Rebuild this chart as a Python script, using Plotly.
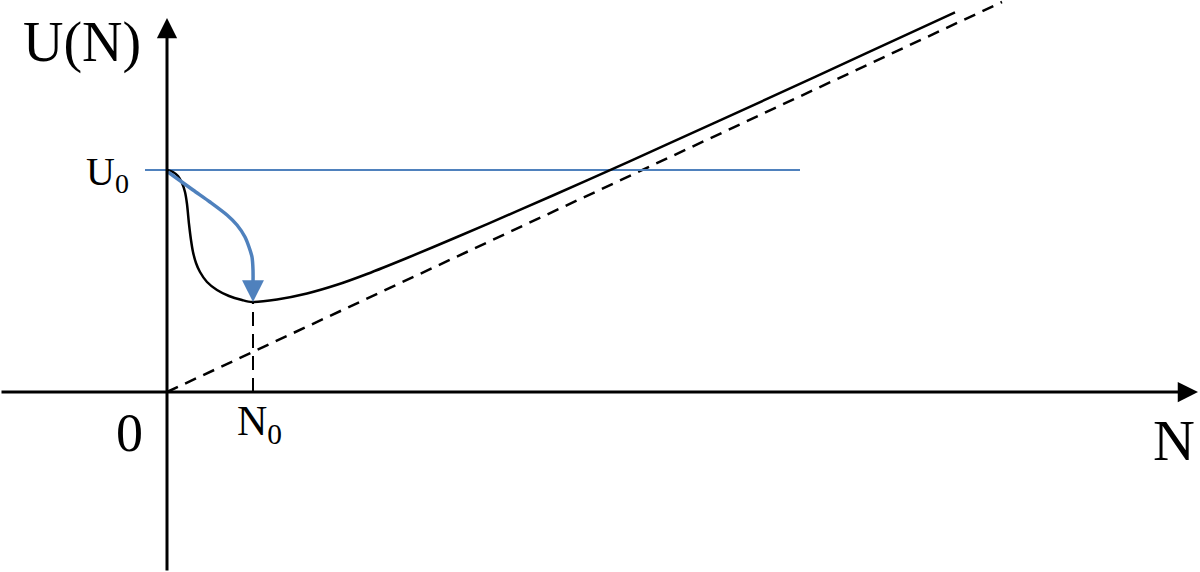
import plotly.graph_objects as go

# Schematic: U(N) with a minimum at N0, asymptote U ~ N, reference level U0
# coordinates are in the figure's own units (origin at the axes crossing)

curve_n = [0, 6, 11, 15, 18, 20, 22, 24, 26, 29, 33, 40, 50, 62, 75, 85,
           110, 140, 170, 200, 240, 290, 350, 420, 500, 600, 700, 788]
curve_u = [222, 220, 216, 209, 200, 188, 168, 152, 140, 129, 120, 110, 102, 96, 92, 90,
           92.5, 98.5, 107.2, 118, 134, 155, 180.8, 211.6, 247.6, 293.1, 339.1, 379.6]

asymptote_n = [0, 835]
asymptote_u = [0, 390]

u0 = 222
u0_line_n = [-22, 633]

n0 = 86
u_min = 90

relax_n = [1, 26, 43, 60, 70, 78, 82, 85, 86, 86]
relax_u = [220, 202, 190, 177, 167, 155, 145, 135, 122, 106]

BLUE = "#4f81bd"
FONT = "Liberation Serif, Times New Roman, serif"

fig = go.Figure()

# dashed asymptote
fig.add_trace(go.Scatter(x=asymptote_n, y=asymptote_u, mode="lines",
                         line=dict(color="black", width=2.5, dash="12px,8px")))

# N0 marker
fig.add_trace(go.Scatter(x=[n0, n0], y=[0, u_min], mode="lines",
                         line=dict(color="black", width=2, dash="14px,8px")))

# U0 level
fig.add_trace(go.Scatter(x=u0_line_n, y=[u0, u0], mode="lines",
                         line=dict(color=BLUE, width=2)))

# U(N) curve
fig.add_trace(go.Scatter(x=curve_n, y=curve_u, mode="lines",
                         line=dict(color="black", width=2.5, shape="spline", smoothing=0.8)))

# relaxation path from U0 down to the minimum
fig.add_trace(go.Scatter(x=relax_n, y=relax_u, mode="lines",
                         line=dict(color=BLUE, width=3.5, shape="spline", smoothing=0.8)))

arrow = dict(showarrow=True, text="", xref="x", yref="y", axref="x", ayref="y",
             arrowhead=2, standoff=0)
fig.add_annotation(**arrow, x=n0, y=u_min, ax=n0, ay=110, arrowcolor=BLUE,
                   arrowwidth=3.5, arrowsize=1.25)
# axes
fig.add_annotation(**arrow, x=0, y=374, ax=0, ay=-180, arrowcolor="black",
                   arrowwidth=3, arrowsize=1.35)
fig.add_annotation(**arrow, x=1031, y=0, ax=-167, ay=0, arrowcolor="black",
                   arrowwidth=3, arrowsize=1.35)

labels = [
    ("U(N)", -24, 350, 56, "right"),
    ("U<sub>0</sub>", -36, 218, 40, "right"),
    ("0", -38, -41, 54, "center"),
    ("N<sub>0</sub>", 92, -32, 42, "center"),
    ("N", 1007, -48, 58, "center"),
]
for txt, lx, ly, size, anchor in labels:
    fig.add_annotation(x=lx, y=ly, text=txt, showarrow=False, xanchor=anchor,
                       yanchor="middle", font=dict(family=FONT, size=size, color="black"))

fig.update_layout(
    width=1200,
    height=572,
    margin=dict(l=0, r=0, t=0, b=0),
    showlegend=False,
    plot_bgcolor="white",
    paper_bgcolor="white",
    xaxis=dict(range=[-167, 1033], visible=False, fixedrange=True),
    yaxis=dict(range=[-180, 392], visible=False, fixedrange=True),
)

fig.write_html("out.html", config={"displayModeBar": False},
               post_script="document.body.style.margin='0';")
